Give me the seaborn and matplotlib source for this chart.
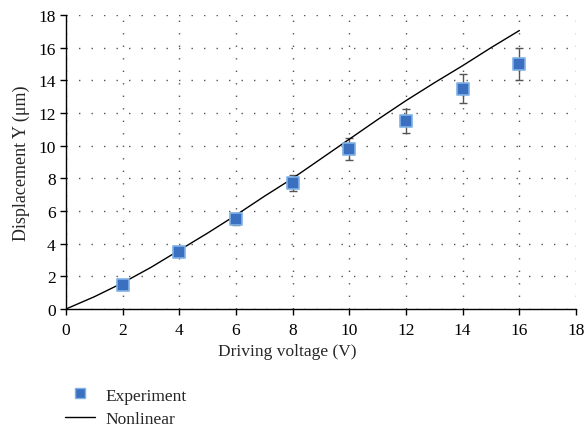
import matplotlib
matplotlib.use("Agg")
import matplotlib.pyplot as plt
import seaborn as sns
import pandas as pd
from matplotlib.lines import Line2D

sns.set_style("white")
plt.rcParams['font.family'] = ['Liberation Serif', 'DejaVu Serif']

# Experimental data
exp_voltage = [2, 4, 6, 8, 10, 12, 14, 16]
exp_disp = [1.5, 3.5, 5.5, 7.7, 9.8, 11.5, 13.5, 15.0]
exp_err = [0.1, 0.2, 0.37, 0.48, 0.65, 0.75, 0.88, 0.97]

# Nonlinear model curve
fit_voltage = [0, 1, 2, 3, 4, 5, 6, 7, 8, 9, 10, 11, 12, 13, 14, 15, 16]
fit_disp = [0, 0.75, 1.6, 2.55, 3.6, 4.65, 5.75, 6.9, 8.0, 9.2, 10.4, 11.6, 12.76, 13.85, 14.9, 16.0, 17.05]

x_ticks = [0, 2, 4, 6, 8, 10, 12, 14, 16, 18]
y_ticks = [0, 2, 4, 6, 8, 10, 12, 14, 16, 18]

df_exp = pd.DataFrame({"V": exp_voltage, "Y": exp_disp, "err": exp_err})
df_fit = pd.DataFrame({"V": fit_voltage, "Y": fit_disp})

fig = plt.figure(figsize=(5.86, 4.27), dpi=100)
ax = fig.add_axes([0.1126, 0.274, 0.8704, 0.6885])

ax.errorbar(df_exp["V"], df_exp["Y"], yerr=df_exp["err"], fmt="none",
            ecolor="#555555", elinewidth=1.0, capsize=3, capthick=1.0, zorder=2)
sns.lineplot(data=df_fit, x="V", y="Y", ax=ax, color="black", linewidth=1.0, zorder=3)
sns.scatterplot(data=df_exp, x="V", y="Y", ax=ax, marker="s", s=65,
                color="#3b6fbf", edgecolor="#7fb2e5", linewidth=1.2, zorder=4)

ax.set_xlim(0, 18)
ax.set_ylim(0, 18)
ax.set_xticks(x_ticks)
ax.set_yticks(y_ticks)
ax.grid(True, linestyle=(0, (1, 8)), color="#555555", linewidth=1.0)
for s in ["top", "right"]:
    ax.spines[s].set_visible(False)
for s in ["left", "bottom"]:
    ax.spines[s].set_color("black")
    ax.spines[s].set_linewidth(1.0)
ax.tick_params(axis="both", direction="out", length=4, width=1, colors="black",
               labelsize=12.5, left=True, bottom=True)
ax.tick_params(axis="x", pad=5)
ax.set_xlabel("Driving voltage (V)", fontsize=12.5, labelpad=5)
ax.xaxis.set_label_coords(0.433, -0.115)
ax.set_ylabel("Displacement Y (μm)", fontsize=13, labelpad=6)

handles = [
    Line2D([], [], marker="s", linestyle="none", markersize=7.5,
           markerfacecolor="#3b6fbf", markeredgecolor="#7fb2e5"),
    Line2D([], [], color="black", linewidth=1.0),
]
fig.legend(handles, ["Experiment", "Nonlinear"], loc="upper left",
           bbox_to_anchor=(0.085, 0.127), frameon=False, fontsize=12.5,
           handlelength=1.7, handletextpad=0.6, labelspacing=0.4)

fig.savefig("out.png", dpi=100)
